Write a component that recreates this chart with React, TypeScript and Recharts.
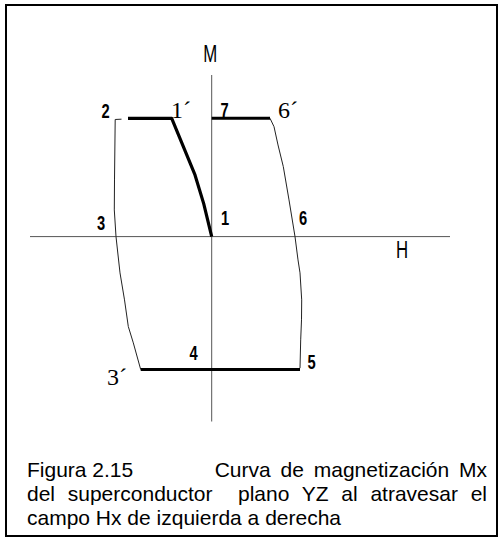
import React from 'react';
import { ComposedChart, Line, XAxis, YAxis, ReferenceLine, Scatter } from 'recharts';

// Field H (horizontal) and magnetisation M (vertical), arbitrary units.

// Initial branch: from the origin (1) up to 1´, then the flat segment towards 2
const initialBranch = [
  { h: 0, m: 0 },
  { h: -0.8, m: 3.3 },
  { h: -1.67, m: 6.17 },
  { h: -4.0, m: 11.84 },
  { h: -8.37, m: 11.84 },
];

// Thin branch from 2 down through 3 to 3´
const leftBranch = [
  { h: -9.02, m: 11.75 },
  { h: -9.65, m: 11.72 },
  { h: -9.72, m: 5.67 },
  { h: -9.74, m: 2.67 },
  { h: -9.57, m: 0 },
  { h: -9.17, m: -3.63 },
  { h: -8.72, m: -6.33 },
  { h: -8.34, m: -9.0 },
  { h: -7.84, m: -10.63 },
  { h: -7.1, m: -13.3 },
];

// Lower plateau 3´ → 4 → 5
const lowerPlateau = [
  { h: -7.1, m: -13.3 },
  { h: 8.83, m: -13.3 },
];

// Thin branch from 5 up through 6 to 6´
const rightBranch = [
  { h: 8.83, m: -13.16 },
  { h: 8.9, m: -10.33 },
  { h: 8.98, m: -8.33 },
  { h: 9.0, m: -6.33 },
  { h: 8.83, m: -3.63 },
  { h: 8.63, m: -2.33 },
  { h: 8.33, m: 0 },
  { h: 7.73, m: 3.67 },
  { h: 7.16, m: 7.0 },
  { h: 6.63, m: 9.17 },
  { h: 6.23, m: 11.0 },
  { h: 5.83, m: 11.84 },
];

// Upper plateau 7 → 6´
const upperPlateau = [
  { h: 0, m: 11.84 },
  { h: 5.83, m: 11.84 },
];

// Point numbers along the loop
const numberLabels = [
  { h: -10.62, m: 12.57, text: '2' },
  { h: 1.28, m: 12.67, text: '7' },
  { h: -11.07, m: 1.37, text: '3' },
  { h: 1.33, m: 1.87, text: '1' },
  { h: 9.13, m: 1.87, text: '6' },
  { h: -1.82, m: -11.63, text: '4' },
  { h: 9.98, m: -12.53, text: '5' },
];

// Primed points
const primedLabels = [
  { h: -3.07, m: 12.67, text: '1´' },
  { h: 7.63, m: 12.67, text: '6´' },
  { h: -9.47, m: -14.03, text: '3´' },
];

// Axis names
const fieldLabel = [{ h: 19.03, m: -1.23, text: 'H' }];
const magnetisationName = 'M';

const H_DOMAIN: [number, number] = [-18.17, 23.83];
const M_DOMAIN: [number, number] = [-18.5, 16.17];

const SERIF = "'Liberation Serif', 'Times New Roman', serif";
const SANS = "'Liberation Sans', Arial, Helvetica, sans-serif";

// Condensed sans text: regular sans squeezed horizontally
const NarrowText = ({ x, y, size, weight, children }: any) => (
  <text
    transform={`translate(${x},${y}) scale(0.7,1)`}
    x={0}
    y={0}
    textAnchor="middle"
    dominantBaseline="central"
    fontFamily={SANS}
    fontSize={size}
    fontWeight={weight || 'normal'}
    fill="#000"
  >
    {children}
  </text>
);

const narrowShape = (size: number, weight?: string) => (props: any) => (
  <NarrowText x={props.cx} y={props.cy} size={size} weight={weight}>
    {props.payload.text}
  </NarrowText>
);

const serifShape = (size: number) => (props: any) => (
  <text
    x={props.cx}
    y={props.cy}
    textAnchor="middle"
    dominantBaseline="central"
    fontFamily={SERIF}
    fontSize={size}
    fill="#000"
  >
    {props.payload.text}
  </text>
);

const MLabel = (props: any) => {
  const vb = props.viewBox || {};
  return (
    <NarrowText x={vb.x - 1.5} y={vb.y - 22} size={24}>
      {magnetisationName}
    </NarrowText>
  );
};

export default function App() {
  return (
    <div style={{ position: 'absolute', left: 0, top: 0, width: 502, height: 541, background: '#fff' }}>
      <ComposedChart
        width={502}
        height={541}
        margin={{ top: 75, right: 52, bottom: 119.5, left: 30 }}
      >
        <XAxis type="number" dataKey="h" domain={H_DOMAIN} allowDataOverflow hide />
        <YAxis type="number" dataKey="m" domain={M_DOMAIN} allowDataOverflow hide />
        <ReferenceLine x={0} stroke="#555" strokeWidth={1} label={<MLabel />} />
        <ReferenceLine y={0} stroke="#555" strokeWidth={1} />

        <Line data={leftBranch} dataKey="m" type="linear" stroke="#222" strokeWidth={1} dot={false} isAnimationActive={false} />
        <Line data={rightBranch} dataKey="m" type="linear" stroke="#222" strokeWidth={1} dot={false} isAnimationActive={false} />
        <Line data={initialBranch} dataKey="m" type="linear" stroke="#000" strokeWidth={3.2} dot={false} isAnimationActive={false} strokeLinejoin="round" />
        <Line data={upperPlateau} dataKey="m" type="linear" stroke="#000" strokeWidth={3} dot={false} isAnimationActive={false} />
        <Line data={lowerPlateau} dataKey="m" type="linear" stroke="#000" strokeWidth={3} dot={false} isAnimationActive={false} />

        <Scatter data={numberLabels} dataKey="m" shape={narrowShape(21, 'bold')} isAnimationActive={false} />
        <Scatter data={primedLabels} dataKey="m" shape={serifShape(24)} isAnimationActive={false} />
        <Scatter data={fieldLabel} dataKey="m" shape={narrowShape(24)} isAnimationActive={false} />
      </ComposedChart>

      <div
        style={{
          position: 'absolute',
          left: 27,
          top: 458,
          width: 460,
          fontFamily: SANS,
          fontSize: 21,
          lineHeight: '24px',
          color: '#000',
        }}
      >
        <div style={{ display: 'flex', justifyContent: 'space-between', whiteSpace: 'nowrap' }}>
          <span>Figura 2.15</span>
          <span style={{ wordSpacing: 4 }}>Curva de magnetización Mx</span>
        </div>
        <div style={{ textAlign: 'justify', textAlignLast: 'justify', whiteSpace: 'nowrap' }}>
          del superconductor&nbsp; plano YZ al atravesar el
        </div>
        <div>campo Hx de izquierda a derecha</div>
      </div>

      <div
        style={{
          position: 'absolute',
          left: 5,
          top: 4,
          width: 493,
          height: 533,
          border: '2px solid #000',
          boxSizing: 'border-box',
          pointerEvents: 'none',
        }}
      />
    </div>
  );
}
